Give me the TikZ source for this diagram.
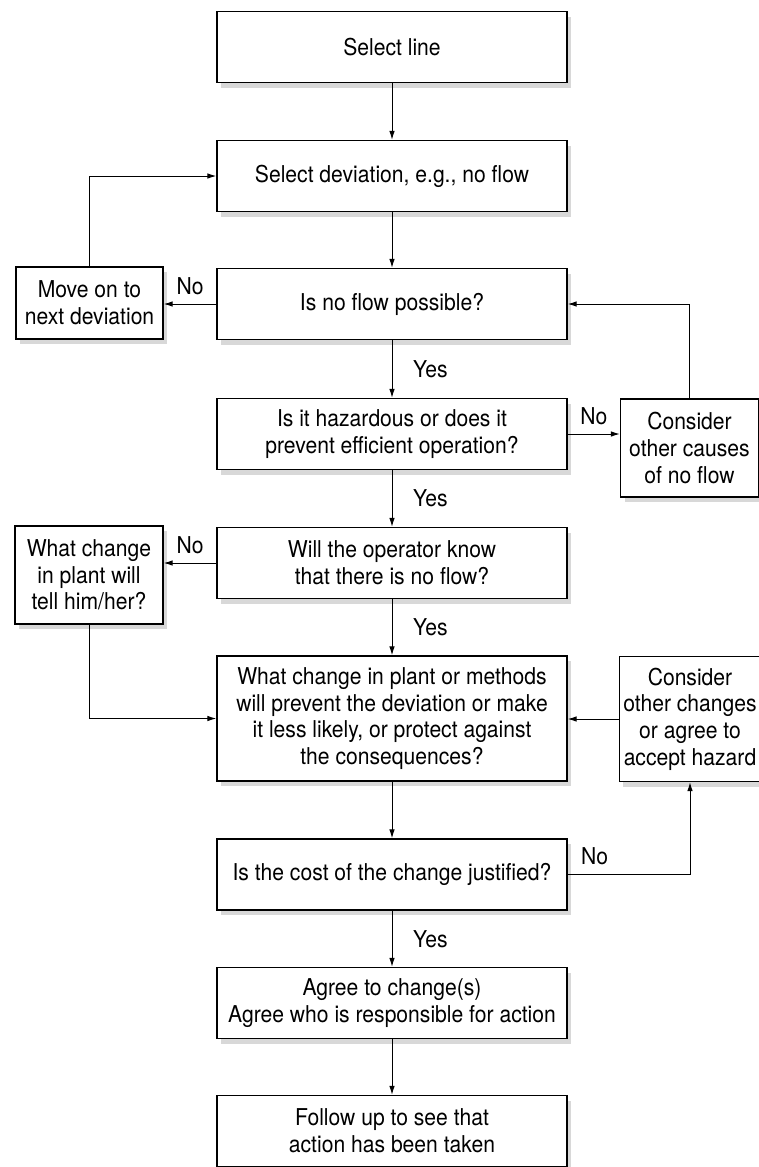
\documentclass[tikz,border=0pt]{standalone}
\usepackage{fontspec}
\setmainfont{TeX Gyre Heros}[FakeStretch=0.91]
\usetikzlibrary{arrows.meta, shadows}

\begin{document}
\begin{tikzpicture}[x=0.5pt, y=-0.5pt,
		font=\fontsize{11.6}{13.3}\selectfont,
		box/.style={draw, line width=0.7pt, fill=white, align=center, inner sep=2pt,
			minimum width=175pt, minimum height=35.5pt,
			drop shadow={fill=black!30, opacity=0.5, shadow xshift=2pt, shadow yshift=-2.5pt}},
		sidebox/.style={box, minimum width=73.5pt, minimum height=36pt},
		arr/.style={-{Latex[length=4.5pt, width=2.8pt]}, line width=0.5pt},
		yes/.style={midway, right=7pt},
		no/.style={above=1pt}]
		\useasboundingbox (0,0) rectangle (759,1167);
		% main column
		\node[box] (line) at (392,47) {Select line};
		\node[box] (dev) at (392,176) {Select deviation, e.g., no flow};
		\node[box] (poss) at (392,304) {Is no flow possible?};
		\node[box] (haz) at (392,434) {Is it hazardous or does it\\prevent efficient operation?};
		\node[box] (oper) at (392,563) {Will the operator know\\that there is no flow?};
		\node[box, minimum height=62.5pt] (meth) at (392,718.5) {What change in plant or methods\\will prevent the deviation or make\\it less likely, or protect against\\the consequences?};
		\node[box] (cost) at (392,874.5) {Is the cost of the change justified?};
		\node[box] (agree) at (392,1003) {Agree to change(s)\\Agree who is responsible for action};
		\node[box] (follow) at (392,1131) {Follow up to see that\\action has been taken};
		% side boxes
		\node[sidebox] (move) at (89.5,303) {Move on to\\next deviation};
		\node[sidebox, minimum width=69pt, minimum height=49pt] (causes) at (689.5,448) {Consider\\other causes\\of no flow};
		\node[sidebox, minimum width=74pt, minimum height=49pt] (tell) at (89,575) {What change\\in plant will\\tell him/her?};
		\node[sidebox, minimum width=69pt, minimum height=62.5pt] (changes) at (690,719) {Consider\\other changes\\or agree to\\accept hazard};
		% straight down
		\foreach \a/\b in {line/dev, dev/poss, meth/cost, agree/follow}
			\draw[arr] (\a) -- (\b);
		\foreach \a/\b in {poss/haz, haz/oper, oper/meth, cost/agree}
			\draw[arr] (\a) -- node[yes] {Yes} (\b);
		% no branches
		\draw[arr] (poss.west) -- node[no] {No} (poss.west -| move.east);
		\draw[arr] (move.north) |- (dev.west);
		\draw[arr] (haz.east) -- node[no] {No} (haz.east -| causes.west);
		\draw[arr] (causes.north) |- (poss.east);
		\draw[arr] (oper.west) -- node[no] {No} (oper.west -| tell.east);
		\draw[arr] (tell.south) |- (meth.west);
		\draw[arr] (changes.west) -- (changes.west -| meth.east);
		\draw[arr] (cost.east) -| node[no, pos=0.11] {No} (changes.south);
	\end{tikzpicture}
\end{document}
